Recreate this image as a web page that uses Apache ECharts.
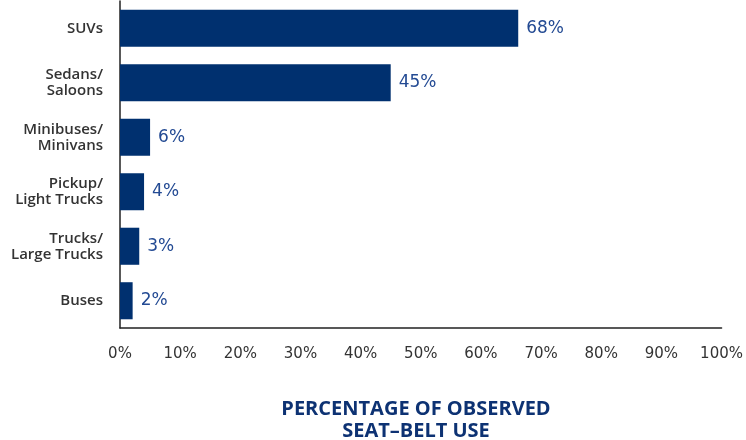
<!DOCTYPE html>
<html>
<head>
<meta charset="utf-8">
<script src="https://cdn.jsdelivr.net/npm/echarts@6/dist/echarts.min.js"></script>
<style>
  html, body { margin: 0; padding: 0; background: #fff; }
  #chart { width: 746px; height: 440px; }
</style>
</head>
<body>
<div id="chart"></div>
<script>
// categories top to bottom
const categories = ["SUVs", "Sedans/\nSaloons", "Minibuses/\nMinivans", "Pickup/\nLight Trucks", "Trucks/\nLarge Trucks", "Buses"];
// bar lengths as drawn in the picture (percent)
const barValues = [66.2, 45, 5, 4, 3.2, 2.1];
// printed labels next to the bars
const valueLabels = ["68%", "45%", "6%", "4%", "3%", "2%"];
const xTicks = [0, 10, 20, 30, 40, 50, 60, 70, 80, 90, 100];

const chart = echarts.init(document.getElementById("chart"));
chart.setOption({
  animation: false,
  grid: { left: 120, right: 23, top: 1, bottom: 112 },
  title: {
    text: "PERCENTAGE OF OBSERVED\nSEAT–BELT USE",
    left: 416,
    top: 398,
    padding: 0,
    textAlign: "center",
    textStyle: {
      color: "#0d3273",
      fontFamily: "Open Sans",
      fontWeight: "bold",
      fontSize: 20,
      lineHeight: 22
    }
  },
  xAxis: {
    type: "value",
    min: 0,
    max: 100,
    interval: 10,
    splitLine: { show: false },
    axisTick: { show: false },
    axisLine: { show: true, lineStyle: { color: "#222", width: 1.5 } },
    axisLabel: {
      margin: 19,
      color: "#333",
      fontFamily: "DejaVu Sans",
      fontSize: 15,
      formatter: v => (xTicks.indexOf(v) >= 0 ? v + "%" : "")
    }
  },
  yAxis: {
    type: "category",
    inverse: true,
    data: categories,
    axisTick: { show: false },
    axisLine: { show: true, lineStyle: { color: "#222", width: 1.5 } },
    axisLabel: {
      margin: 17,
      color: "#333",
      fontFamily: "Open Sans",
      fontWeight: 600,
      fontSize: 15,
      lineHeight: 16
    }
  },
  series: [
    {
      type: "bar",
      data: barValues,
      barCategoryGap: "32%",
      itemStyle: { color: "#00306f" },
      label: {
        show: true,
        position: "right",
        distance: 8,
        color: "#234a93",
        fontFamily: "DejaVu Sans",
        fontSize: 17,
        formatter: p => valueLabels[p.dataIndex]
      }
    }
  ]
});
</script>
</body>
</html>
